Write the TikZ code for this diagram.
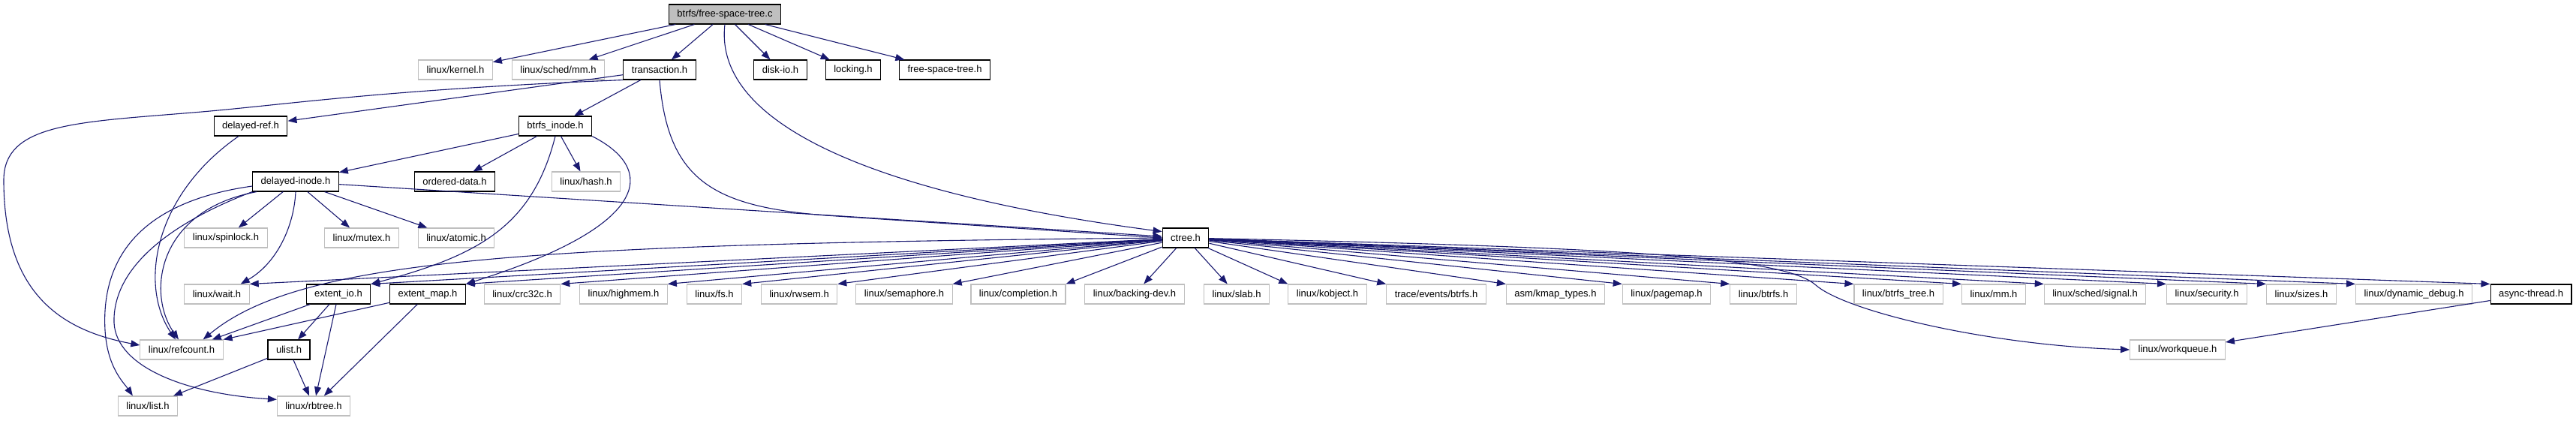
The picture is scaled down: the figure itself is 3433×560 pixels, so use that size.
\documentclass[tikz,border=0pt]{standalone}
\usepackage{fontspec}
\setsansfont{Liberation Sans}
\usetikzlibrary{arrows.meta}
\definecolor{edgeblue}{HTML}{191970}
\definecolor{sysgray}{HTML}{BFBFBF}

\begin{document}
\begin{tikzpicture}[>={Triangle[length=12pt,width=9pt]}, x=1pt, y=-1pt]

\tikzset{
  hdr/.style={
    draw=black,
    line width=1.1pt,
    fill=white,
    align=center,
    inner xsep=11pt,
    inner ysep=0pt,
    minimum height=26pt,
    font=\sffamily\fontsize{13}{15}\selectfont
  },
  sys/.style={
    hdr,
    draw=sysgray
  },
  root/.style={
    hdr,
    fill=sysgray
  },
  dep/.style={
    ->,
    draw=edgeblue,
    line width=1.1pt
  }
}

\useasboundingbox (0,0) rectangle (3433,560);

% row 1: the file itself
\node[root] (fstc) at (966,19) {btrfs/free-space-tree.c};

% row 2
\node[sys] (kernel)  at (607,93)  {linux/kernel.h};
\node[sys] (schedmm) at (744,93)  {linux/sched/mm.h};
\node[hdr] (trans)   at (879,93)  {transaction.h};
\node[hdr] (diskio)  at (1040,93) {disk-io.h};
\node[hdr] (locking) at (1137,93) {locking.h};
\node[hdr] (fsth)    at (1259,93) {free-space-tree.h};

% row 3
\node[hdr] (dref)   at (334,168) {delayed-ref.h};
\node[hdr] (binode) at (740,168) {btrfs\_inode.h};

% row 4
\node[hdr] (dinode)  at (394,242) {delayed-inode.h};
\node[hdr] (ordered) at (606,242) {ordered-data.h};
\node[sys] (hash)    at (781,242) {linux/hash.h};

% row 5
\node[sys] (spinlock) at (301,317)  {linux/spinlock.h};
\node[sys] (mutex)    at (482,317)  {linux/mutex.h};
\node[sys] (atomic)   at (608,317)  {linux/atomic.h};
\node[hdr] (ctree)    at (1580,317) {ctree.h};

% row 6: everything ctree.h pulls in
\node[sys] (wait)     at (289,392)  {linux/wait.h};
\node[hdr] (extio)    at (451,392)  {extent\_io.h};
\node[hdr] (extmap)   at (570,392)  {extent\_map.h};
\node[sys] (crc)      at (696,392)  {linux/crc32c.h};
\node[sys] (highmem)  at (831,392)  {linux/highmem.h};
\node[sys] (fs)       at (952,392)  {linux/fs.h};
\node[sys] (rwsem)    at (1065,392) {linux/rwsem.h};
\node[sys] (sema)     at (1205,392) {linux/semaphore.h};
\node[sys] (compl)    at (1357,392) {linux/completion.h};
\node[sys] (bdev)     at (1512,392) {linux/backing-dev.h};
\node[sys] (slab)     at (1648,392) {linux/slab.h};
\node[sys] (kobj)     at (1769,392) {linux/kobject.h};
\node[sys] (trace)    at (1914,392) {trace/events/btrfs.h};
\node[sys] (kmap)     at (2073,392) {asm/kmap\_types.h};
\node[sys] (pagemap)  at (2221,392) {linux/pagemap.h};
\node[sys] (btrfsh)   at (2350,392) {linux/btrfs.h};
\node[sys] (btree)    at (2530,392) {linux/btrfs\_tree.h};
\node[sys] (mm)       at (2657,392) {linux/mm.h};
\node[sys] (signal)   at (2792,392) {linux/sched/signal.h};
\node[sys] (security) at (2941,392) {linux/security.h};
\node[sys] (sizes)    at (3067,392) {linux/sizes.h};
\node[sys] (dyndbg)   at (3217,392) {linux/dynamic\_debug.h};
\node[hdr] (async)    at (3373,392) {async-thread.h};

% rows 7 and 8
\node[sys] (refcount) at (242,466)  {linux/refcount.h};
\node[hdr] (ulist)    at (385,466)  {ulist.h};
\node[sys] (wq)       at (2902,466) {linux/workqueue.h};
\node[sys] (list)     at (197,541)  {linux/list.h};
\node[sys] (rbtree)   at (418,541)  {linux/rbtree.h};

% free-space-tree.c
\foreach \t in {kernel,schedmm,trans,diskio,locking,fsth}
  \draw[dep] (fstc) -- (\t);
\draw[dep] (fstc.south) .. controls (950,170) and (1180,260) .. (ctree.165);

% transaction.h
\draw[dep] (trans) -- (dref);
\draw[dep] (trans) -- (binode);
\draw[dep] (trans.south) .. controls (890,240) and (950,275) .. (1100,287) -- (ctree.west);
\draw[dep] (trans.south west) .. controls (500,120) and (380,140) .. (257,150)
  .. controls (100,163) and (5,165) .. (5,240)
  .. controls (5,390) and (80,440) .. ([yshift=6pt]refcount.west);

% delayed-ref.h
\draw[dep] ([xshift=-16pt]dref.south) .. controls (205,260) and (185,380) .. ([xshift=-8pt]refcount.north);

% btrfs_inode.h
\draw[dep] (binode) -- (dinode);
\draw[dep] (binode) -- (ordered);
\draw[dep] (binode) -- (hash);
\draw[dep] (binode.south) .. controls (710,300) and (640,340) .. (extio.north east);
\draw[dep] (binode.south east) .. controls (875,225) and (870,300) .. (extmap.north east);

% delayed-inode.h
\draw[dep] (dinode) -- (spinlock);
\draw[dep] (dinode) -- (mutex);
\draw[dep] (dinode) -- (atomic);
\draw[dep] (dinode) -- (ctree);
\draw[dep] (dinode.south) .. controls (392,300) and (370,350) .. ([xshift=-12pt]wait.north east);
\draw[dep] ([xshift=6pt]dinode.south west) .. controls (210,280) and (195,390) .. ([xshift=-4pt]refcount.north);
\draw[dep] ([yshift=-6pt]dinode.west) .. controls (180,270) and (135,350) .. (140,440)
  .. controls (143,490) and (165,510) .. ([xshift=20pt]list.north west);
\draw[dep] (dinode.south west) .. controls (220,300) and (150,360) .. (152,430)
  .. controls (155,490) and (250,525) .. (rbtree.170);

% ctree.h
\foreach \t in {wait,extio,extmap,crc,highmem,fs,rwsem,sema,compl}
  \draw[dep] (ctree) -- (\t.north east);
\foreach \t in {bdev,slab}
  \draw[dep] (ctree) -- (\t);
\foreach \t in {kobj,trace,kmap,pagemap,btrfsh,btree,mm,signal,security,sizes,dyndbg,async}
  \draw[dep] (ctree) -- (\t.north west);
\draw[dep] (ctree.west) .. controls (700,325) and (400,345) .. ([xshift=-27pt]refcount.north east);
\draw[dep] (ctree) .. controls (2200,330) and (2380,345) .. (2420,380)
  .. controls (2460,415) and (2650,460) .. (wq.west);

% lower headers
\draw[dep] (extio) -- ([xshift=-15pt]refcount.north east);
\draw[dep] (extio) -- (ulist);
\draw[dep] (extio) -- (rbtree);
\draw[dep] (extmap) -- (refcount.north east);
\draw[dep] (extmap) -- (rbtree);
\draw[dep] (ulist) -- (list);
\draw[dep] (ulist) -- (rbtree);
\draw[dep] (async) -- (wq);

\end{tikzpicture}
\end{document}
